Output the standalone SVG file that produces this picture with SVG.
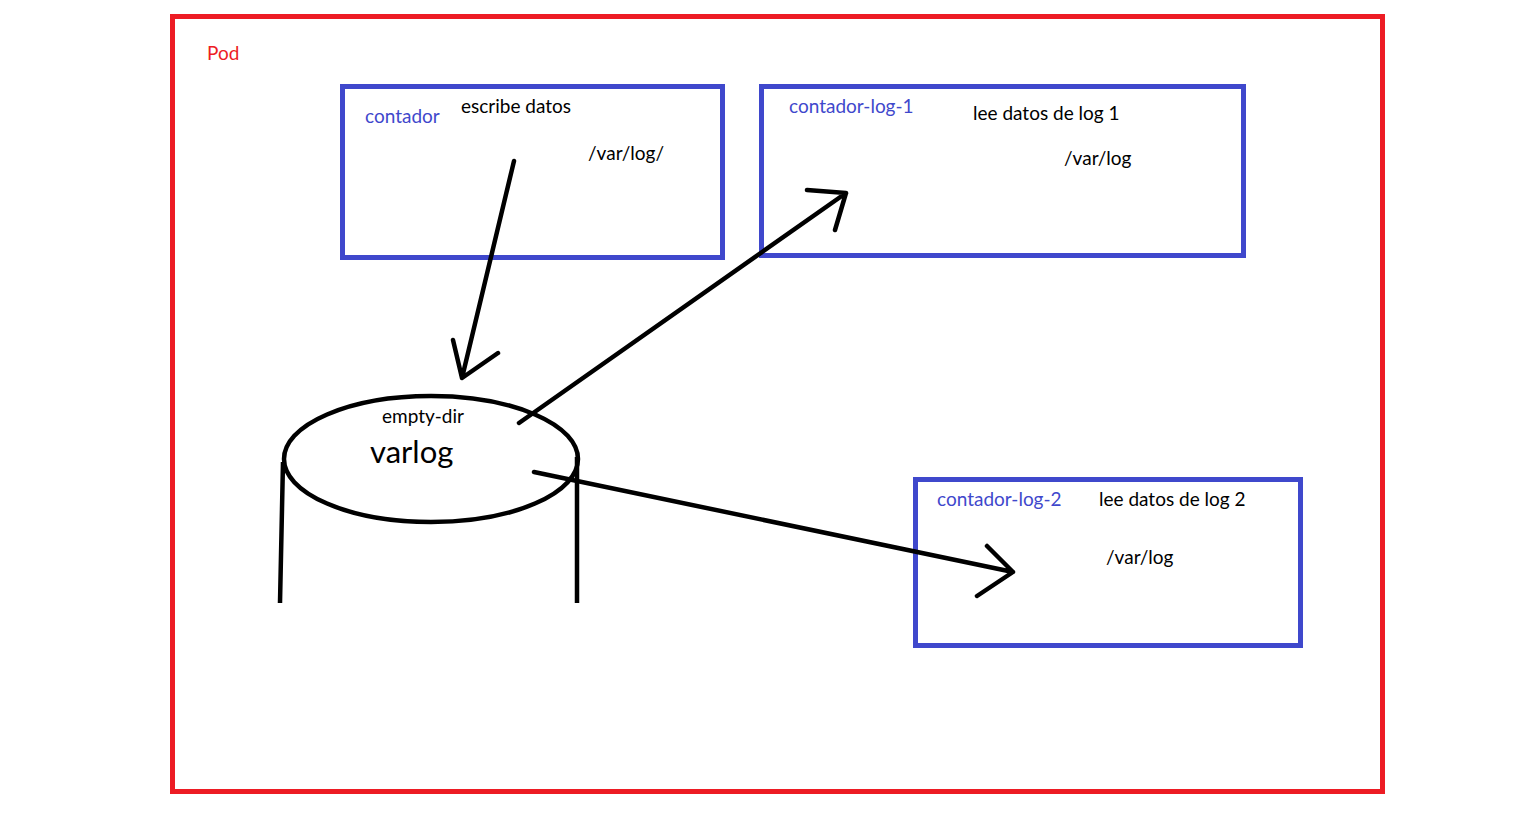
<svg xmlns="http://www.w3.org/2000/svg" width="1514" height="814" viewBox="0 0 1514 814">
  <style>
    .pod { fill: none; stroke: #ED1C24; stroke-width: 5; }
    .box { fill: none; stroke: #3F48CC; stroke-width: 5; }
    .ink { fill: none; stroke: #000; stroke-width: 4.5; stroke-linecap: round; stroke-linejoin: round; }
    .drum { fill: none; stroke: #000; stroke-width: 4.5; stroke-linecap: butt; }
    text { font-family: Lato, "Open Sans", "Liberation Sans", sans-serif; font-size: 19px; }
    .name { fill: #3F48CC; }
    .note { fill: #000; }
    .podname { fill: #ED1C24; }
  </style>
  <rect width="1514" height="814" fill="#fff"/>

  <!-- pod boundary -->
  <g id="pod">
    <rect class="pod" x="172.5" y="16.5" width="1210" height="775"/>
    <text class="podname" x="207" y="60">Pod</text>
  </g>

  <!-- writer container -->
  <g id="contador">
    <rect class="box" x="342.5" y="86.5" width="380" height="171"/>
    <text class="name" x="365" y="123">contador</text>
    <text class="note" x="461" y="113">escribe datos</text>
    <text class="note" x="588" y="160">/var/log/</text>
  </g>

  <!-- reader container 1 -->
  <g id="contador-log-1">
    <rect class="box" x="761.5" y="86.5" width="482" height="169"/>
    <text class="name" x="789" y="113">contador-log-1</text>
    <text class="note" x="973" y="120">lee datos de log 1</text>
    <text class="note" x="1064" y="165">/var/log</text>
  </g>

  <!-- reader container 2 -->
  <g id="contador-log-2">
    <rect class="box" x="915.5" y="479.5" width="385" height="166"/>
    <text class="name" x="937" y="506">contador-log-2</text>
    <text class="note" x="1099" y="506">lee datos de log 2</text>
    <text class="note" x="1106" y="564">/var/log</text>
  </g>

  <!-- shared emptyDir volume -->
  <g id="varlog">
    <ellipse class="drum" cx="431" cy="459" rx="147" ry="63"/>
    <path class="drum" d="M283 462 L280 603 M577 457 L577 603"/>
    <text class="note" x="382" y="423">empty-dir</text>
    <text class="note" x="370" y="463" style="font-size:31px">varlog</text>
  </g>

  <!-- data flow -->
  <g id="connectors">
    <path class="ink" d="M514 161 L462 378 M453 340 L462 378 L498 353"/>
    <path class="ink" d="M519 423 L846 193 M807 190 L846 193 L835 230"/>
    <path class="ink" d="M534 472 L1013 572 M987 546 L1013 572 L977 596"/>
  </g>
</svg>
